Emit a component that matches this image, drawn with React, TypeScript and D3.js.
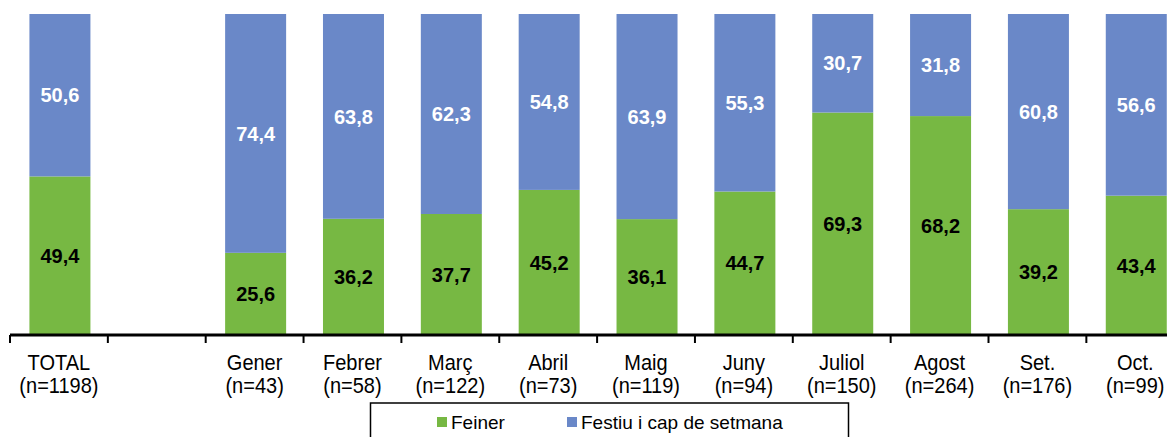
import React from 'react';
import * as d3 from 'd3';

const categories = ['TOTAL', '', 'Gener', 'Febrer', 'Març', 'Abril', 'Maig', 'Juny', 'Juliol', 'Agost', 'Set.', 'Oct.'];
const counts = ['(n=1198)', '', '(n=43)', '(n=58)', '(n=122)', '(n=73)', '(n=119)', '(n=94)', '(n=150)', '(n=264)', '(n=176)', '(n=99)'];
const feiner = [49.4, null, 25.6, 36.2, 37.7, 45.2, 36.1, 44.7, 69.3, 68.2, 39.2, 43.4];
const festiu = [50.6, null, 74.4, 63.8, 62.3, 54.8, 63.9, 55.3, 30.7, 31.8, 60.8, 56.6];
const seriesNames = ['Feiner', 'Festiu i cap de setmana'];

const GREEN = '#77b843';
const BLUE = '#6a88c8';
const FONT = '"Liberation Sans", Arial, sans-serif';

const fmt = (v: number) => v.toFixed(1).replace('.', ',');

const App = () => {
  const width = 1167;
  const height = 437;
  const slot = 97.85;
  const x0 = 10;
  const baseY = 335;
  const topY = 14;
  const barW = 61;

  const x = d3.scaleBand<number>()
    .domain(categories.map((_, i) => i))
    .range([x0, x0 + slot * categories.length])
    .padding(0);
  const y = d3.scaleLinear().domain([0, 100]).range([baseY, topY]);

  const colors = [GREEN, BLUE];

  return (
    <svg width={width} height={height} style={{ position: 'absolute', left: 0, top: 0, background: '#fff' }} fontFamily={FONT}>
      {categories.map((c, i) => {
        const f = feiner[i];
        const h = festiu[i];
        if (f == null || h == null) return null;
        const bx = (x(i) as number) + (slot - barW) / 2 + 1;
        const cx = bx + barW / 2;
        const yF = y(f);
        return (
          <g key={'bar' + i}>
            <rect x={bx} y={yF} width={barW} height={baseY - yF} fill={GREEN} />
            <rect x={bx} y={y(f + h)} width={barW} height={yF - y(f + h)} fill={BLUE} />
            <text x={cx} y={(yF + baseY) / 2} dy="0.36em" textAnchor="middle" fontWeight="bold" fontSize={20} fill="#000">{fmt(f)}</text>
            <text x={cx} y={(yF + y(f + h)) / 2} dy="0.36em" textAnchor="middle" fontWeight="bold" fontSize={20} fill="#fff">{fmt(h)}</text>
          </g>
        );
      })}
      <line x1={x0} x2={width} y1={baseY} y2={baseY} stroke="#000" strokeWidth={3} />
      {categories.map((_, i) => (
        <line key={'t' + i} x1={x(i) as number} x2={x(i) as number} y1={baseY} y2={baseY + 8} stroke="#000" strokeWidth={2} />
      ))}
      {categories.map((c, i) => {
        const cx = (x(i) as number) + slot / 2;
        return (
          <g key={'l' + i} fontSize={20} fill="#000">
            <text x={cx} y={370} textAnchor="middle" transform={`translate(0,370) scale(1,1.1) translate(0,-370)`}>{c}</text>
            <text x={cx} y={393} textAnchor="middle" transform={`translate(0,393) scale(1,1.1) translate(0,-393)`}>{counts[i]}</text>
          </g>
        );
      })}
      <rect x={370.5} y={403} width={478} height={60} fill="#fff" stroke="#000" strokeWidth={1.5} />
      {seriesNames.map((s, i) => {
        const lx = [437, 567][i];
        return (
          <g key={'lg' + i}>
            <rect x={lx} y={417} width={10} height={10} fill={colors[i]} />
            <text x={lx + 14} y={429} fontSize={19} fill="#000">{s}</text>
          </g>
        );
      })}
    </svg>
  );
};

export default App;
